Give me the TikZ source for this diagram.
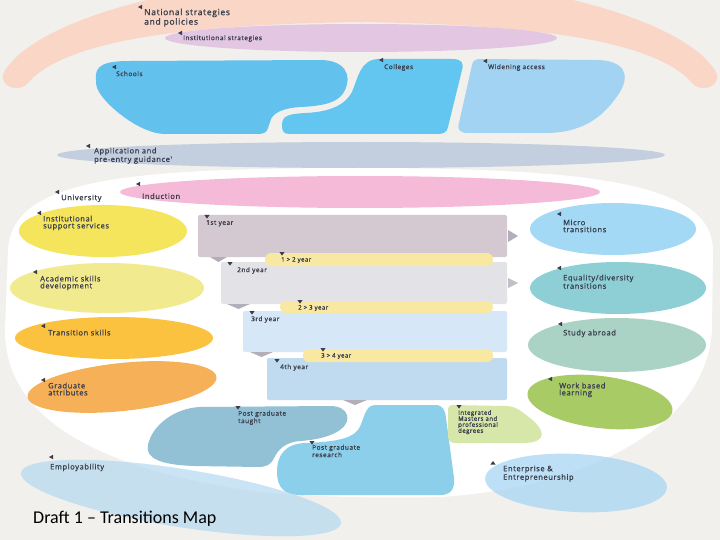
\documentclass[tikz,border=0pt]{standalone}
\usepackage{fontspec}
\newfontfamily\lblfont[LetterSpace=8, FakeBold=1.2]{Open Sans}
\newfontfamily\titlefont{Carlito}

\begin{document}
\begin{tikzpicture}[x=1pt,y=-1pt,
    lbl/.style={anchor=north west, inner sep=0pt, align=left, text=txt, font=\lblfont\fontsize{7.5}{7}\selectfont},
    lblsm/.style={lbl, font=\lblfont\fontsize{6.5}{6}\selectfont},
    lblxs/.style={lbl, font=\lblfont\fontsize{6}{6}\selectfont},
    lblbig/.style={lbl, font=\lblfont\fontsize{8.5}{8}\selectfont},
    tagc/.style={fill=txt},
    yearbox/.style={rounded corners=2pt},
    pill/.style={fill=pillc, rounded corners=6pt}]
    % Define colors
    \definecolor{bg}{RGB}{241, 240, 237}
    \definecolor{txt}{RGB}{58, 62, 76}
    \definecolor{peach}{RGB}{249, 214, 198}
    \definecolor{lilac}{RGB}{226, 198, 226}
    \definecolor{schoolc}{RGB}{99, 193, 238}
    \definecolor{collegec}{RGB}{98, 198, 240}
    \definecolor{widenc}{RGB}{162, 211, 242}
    \definecolor{applc}{RGB}{195, 206, 223}
    \definecolor{inductc}{RGB}{244, 186, 216}
    \definecolor{issc}{RGB}{244, 229, 92}
    \definecolor{asdc}{RGB}{242, 234, 142}
    \definecolor{tsc}{RGB}{251, 194, 63}
    \definecolor{gac}{RGB}{246, 176, 88}
    \definecolor{microc}{RGB}{163, 217, 245}
    \definecolor{equalc}{RGB}{142, 207, 214}
    \definecolor{studyc}{RGB}{170, 211, 198}
    \definecolor{workc}{RGB}{169, 203, 102}
    \definecolor{pgtc}{RGB}{146, 193, 214}
    \definecolor{pgrc}{RGB}{140, 207, 234}
    \definecolor{integc}{RGB}{215, 231, 170}
    \definecolor{enterc}{RGB}{168, 214, 243}
    \definecolor{employc}{RGB}{176, 214, 240}
    \definecolor{yr1}{RGB}{212, 200, 209}
    \definecolor{yr2}{RGB}{227, 227, 231}
    \definecolor{yr3}{RGB}{214, 231, 247}
    \definecolor{yr4}{RGB}{192, 219, 239}
    \definecolor{pillc}{RGB}{249, 232, 162}
    \definecolor{arrc}{RGB}{180, 174, 186}

    % Background
    \useasboundingbox (0,0) rectangle (720,540);
    \clip (0,0) rectangle (720,540);
    \fill[bg] (0,0) rectangle (720,540);

    % National strategies arc
    \fill[peach] (3,74) .. controls (25,30) and (150,-20) .. (360,-25)
        .. controls (570,-20) and (695,30) .. (717,74)
        .. controls (720,88) and (700,92) .. (693,84)
        .. controls (660,45) and (560,25) .. (360,22)
        .. controls (160,25) and (60,45) .. (27,84)
        .. controls (20,92) and (0,88) .. (3,74) -- cycle;
    \fill[lilac] (361,38) ellipse (196 and 14);

    % Schools, colleges, widening access
    \fill[schoolc] (96,80) .. controls (94,65) and (105,61) .. (130,61) -- (320,60)
        .. controls (345,60) and (352,75) .. (345,90)
        .. controls (340,102) and (325,106) .. (300,107)
        .. controls (285,108) and (272,112) .. (270,122) -- (268,128)
        .. controls (267,132) and (264,134) .. (258,134) -- (165,134)
        .. controls (140,134) and (105,105) .. (98,90)
        .. controls (96,86) and (96,83) .. (96,80) -- cycle;
    \fill[collegec] (282,125) .. controls (282,115) and (290,114) .. (305,113)
        .. controls (330,112) and (345,105) .. (352,92)
        .. controls (358,78) and (360,60) .. (378,59) -- (452,59)
        .. controls (462,59) and (464,63) .. (462,70) -- (448,127)
        .. controls (447,132) and (444,134) .. (438,134) -- (290,134)
        .. controls (284,134) and (282,132) .. (282,125) -- cycle;
    \fill[widenc] (478,59) -- (598,60) .. controls (625,61) and (630,75) .. (620,92)
        .. controls (605,115) and (585,133) .. (545,133) -- (468,133)
        .. controls (460,133) and (457,130) .. (459,123) -- (472,65)
        .. controls (473,61) and (475,59) .. (478,59) -- cycle;

    % Application
    \fill[applc] (361,155) ellipse (304 and 13);

    % University
    \fill[white] (360,168) .. controls (120,168) and (12,180) .. (8,250) -- (5,330)
        .. controls (5,420) and (100,470) .. (260,492)
        .. controls (320,498) and (400,498) .. (440,497)
        .. controls (560,490) and (705,440) .. (712,330) -- (713,250)
        .. controls (712,185) and (600,168) .. (360,168) -- cycle;
    \fill[inductc] (360,192) ellipse (240 and 16);

    % Left column
    \fill[issc] (103,231) ellipse (84 and 26);
    \fill[asdc] (107,288) ellipse (97 and 25);
    \fill[tsc] (114,338) ellipse (99 and 21);
    \fill[gac, rotate around={6:(122,387)}] (122,387) ellipse (95 and 24);

    % Right column
    \fill[microc] (613,229) ellipse (83 and 26);
    \fill[equalc] (618,288) ellipse (88 and 26);
    \fill[studyc] (617,345) ellipse (89 and 27);
    \fill[workc, rotate around={-7:(600,402)}] (600,402) ellipse (73 and 26);

    % Years
    \fill[yr1, yearbox] (198,215) rectangle (507,257);
    \fill[yr2, yearbox] (221,262) rectangle (507,304);
    \fill[yr3, yearbox] (243,311) rectangle (507,352);
    \fill[yr4, yearbox] (267,358) rectangle (507,400);
    \fill[arrc] (508,230) -- (518,236) -- (508,242) -- cycle;
    \fill[arrc!80!white] (508,278) -- (518,283) -- (508,288) -- cycle;
    \fill[arrc] (210,257) -- (227,257) -- (218.5,262) -- cycle;
    \fill[arrc] (227,304) -- (250,304) -- (238.5,309) -- cycle;
    \fill[arrc] (250,352) -- (273,352) -- (261.5,357) -- cycle;
    \fill[arrc] (343,400) -- (367,400) -- (355,405) -- cycle;
    \fill[pill] (265,253) rectangle (493,266);
    \fill[pill] (280,301) rectangle (493,313);
    \fill[pill] (303,349) rectangle (493,362);

    % Post graduate
    \fill[pgtc] (200,407) -- (330,406) .. controls (350,406) and (352,422) .. (340,430)
        .. controls (330,437) and (315,440) .. (300,441)
        .. controls (285,442) and (278,450) .. (274,458)
        .. controls (271,465) and (266,467) .. (258,467) -- (195,466)
        .. controls (160,465) and (145,458) .. (148,445)
        .. controls (152,425) and (175,408) .. (200,407) -- cycle;
    \fill[pgrc] (375,405) -- (435,405) .. controls (443,405) and (445,410) .. (446,418)
        -- (454,478) .. controls (455,490) and (450,495) .. (440,495) -- (300,495)
        .. controls (285,495) and (277,488) .. (277,472)
        .. controls (277,455) and (285,444) .. (305,443)
        .. controls (330,442) and (350,440) .. (358,430)
        .. controls (364,422) and (364,405) .. (375,405) -- cycle;
    \fill[integc] (452,405) -- (505,406) .. controls (515,406) and (520,410) .. (530,418)
        .. controls (545,430) and (548,442) .. (525,443) -- (455,443)
        .. controls (450,443) and (448,440) .. (448,435) -- (448,410)
        .. controls (448,407) and (449,405) .. (452,405) -- cycle;

    % Enterprise and employability
    \fill[enterc, fill opacity=0.75, rotate around={-3:(576,483)}] (576,483) ellipse (91 and 29);
    \fill[employc, fill opacity=0.65, rotate around={-9:(181,498)}] (181,498) ellipse (162 and 29);

    % Markers
    \foreach \x/\y in {138/7, 178/33, 112/67, 379/60, 483/61, 86/146, 55/192, 136/184,
        37/213, 33/272, 41/326, 41/380, 557/214, 557/268, 558/324, 548/379, 49/457}
        \fill[tagc] (\x,\y) -- ++(4,-2.2) -- ++(0,4.4) -- cycle;
    \foreach \x/\y in {207/215, 282/252, 230/262, 300/300, 252/311, 323/348, 277/359,
        238/406, 312/441, 459/405}
        \fill[tagc] (\x,\y) ++(-2.6,0) -- ++(5.2,0) -- ++(-2.6,3.6) -- cycle;
    \fill[tagc] (493,461) -- ++(2.6,3.6) -- ++(-5.2,0) -- cycle;

    % Labels
    \node[lblbig] (natl) at (144,8.5) {National strategies\\and policies};
    \node[lblsm] (inst) at (183,35) {Institutional strategies};
    \node[lblsm] (schools) at (116,71) {Schools};
    \node[lblsm] (colleges) at (384,64) {Colleges};
    \node[lblsm] (widen) at (488,64) {Widening access};
    \node[lbl] (appl) at (94,147.5) {Application and\\pre-entry guidance'};
    \node[lbl] (univ) at (61,194.5) {University};
    \node[lbl] (induct) at (142,193) {Induction};
    \node[lbl] (iss) at (43,215.5) {Institutional\\support services};
    \node[lbl] (asd) at (40,275.5) {Academic skills\\development};
    \node[lbl] (ts) at (48,329.5) {Transition skills};
    \node[lbl] (ga) at (48,382.5) {Graduate\\attributes};
    \node[lblsm] (yone) at (206,220) {1st year};
    \node[lblxs] (tone) at (281,257) {1 > 2 year};
    \node[lblsm] (ytwo) at (237,267) {2nd year};
    \node[lblxs] (ttwo) at (298,305) {2 > 3 year};
    \node[lblsm] (ythree) at (251,316) {3rd year};
    \node[lblxs] (tthree) at (321,353) {3 > 4 year};
    \node[lblsm] (yfour) at (280,364) {4th year};
    \node[lbl] (micro) at (563,219.5) {Micro\\transitions};
    \node[lbl] (equal) at (563,274.5) {Equality/diversity\\transitions};
    \node[lbl] (study) at (563,329.5) {Study abroad};
    \node[lbl] (work) at (559,382.5) {Work based\\learning};
    \node[lblsm] (pgt) at (238,410.5) {Post graduate\\taught};
    \node[lblsm] (pgr) at (312,444.5) {Post graduate\\research};
    \node[lblxs] (integ) at (458,410) {Integrated\\Masters and\\professional\\degrees};
    \node[lbl] (enter) at (503,465.5) {Enterprise \&\\Entrepreneurship};
    \node[lbl] (employ) at (50,463.5) {Employability};

    % Title
    \node[anchor=base west, inner sep=0pt, font=\titlefont\fontsize{18}{20}\selectfont] (title) at (33,523) {Draft 1 – Transitions Map};
\end{tikzpicture}
\end{document}
